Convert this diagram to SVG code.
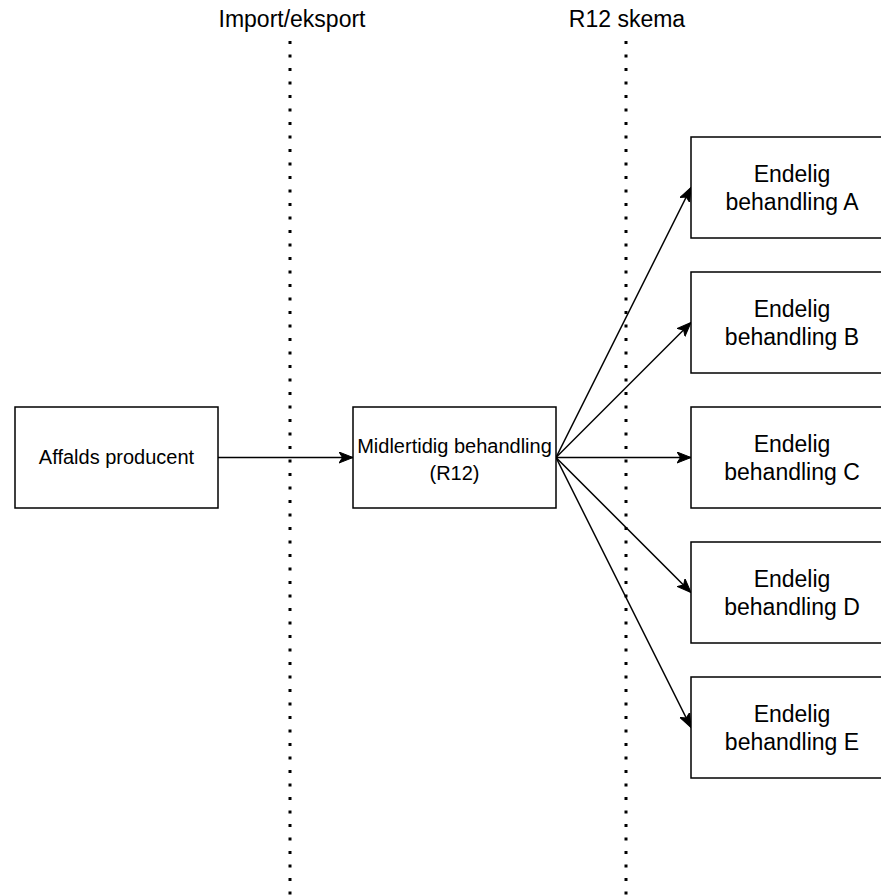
<svg xmlns="http://www.w3.org/2000/svg" width="881" height="895" viewBox="0 0 881 895">
<style>
.box{fill:#fff;stroke:#000;stroke-width:1.5}
.lbl{font-family:"Liberation Sans",Arial,sans-serif;fill:#000;text-anchor:middle}
.big{font-size:23px}
.mid{font-size:20px}
.edge{fill:none;stroke:#000;stroke-width:1.5}
.sep{fill:none;stroke:#000;stroke-width:3;stroke-dasharray:3 10.5}
</style>
<defs>
<marker id="arr" markerUnits="userSpaceOnUse" markerWidth="16" markerHeight="14" refX="14" refY="6" orient="auto">
<path d="M0,0.5 L14,6 L0,11.5 L3.5,6 z" fill="#000" stroke="#000" stroke-width="1"/>
</marker>
</defs>
<g id="separators">
<line class="sep" x1="290" y1="41" x2="290" y2="895"/>
<line class="sep" x1="626" y1="41" x2="626" y2="895"/>
<text class="lbl big" x="292" y="27">Import/eksport</text>
<text class="lbl big" x="627" y="27">R12 skema</text>
</g>
<g id="connectors">
<line class="edge" x1="218" y1="457.5" x2="353" y2="457.5" marker-end="url(#arr)"/>
<line class="edge" x1="556" y1="457.5" x2="691" y2="187.5" marker-end="url(#arr)"/>
<line class="edge" x1="556" y1="457.5" x2="691" y2="322.5" marker-end="url(#arr)"/>
<line class="edge" x1="556" y1="457.5" x2="691" y2="457.5" marker-end="url(#arr)"/>
<line class="edge" x1="556" y1="457.5" x2="691" y2="592.5" marker-end="url(#arr)"/>
<line class="edge" x1="556" y1="457.5" x2="691" y2="727.5" marker-end="url(#arr)"/>
</g>
<g id="affalds">
<rect class="box" x="15" y="407" width="203" height="101"/>
<text class="lbl mid" x="116.5" y="464">Affalds producent</text>
</g>
<g id="midlertidig">
<rect class="box" x="353" y="407" width="203" height="101"/>
<text class="lbl mid" x="454.5" y="453">Midlertidig behandling</text>
<text class="lbl mid" x="454.5" y="480">(R12)</text>
</g>
<g id="endeligA">
<rect class="box" x="691" y="137" width="203" height="101"/>
<text class="lbl big" x="792" y="182">Endelig</text>
<text class="lbl big" x="792" y="210">behandling A</text>
</g>
<g id="endeligB">
<rect class="box" x="691" y="272" width="203" height="101"/>
<text class="lbl big" x="792" y="317">Endelig</text>
<text class="lbl big" x="792" y="345">behandling B</text>
</g>
<g id="endeligC">
<rect class="box" x="691" y="407" width="203" height="101"/>
<text class="lbl big" x="792" y="452">Endelig</text>
<text class="lbl big" x="792" y="480">behandling C</text>
</g>
<g id="endeligD">
<rect class="box" x="691" y="542" width="203" height="101"/>
<text class="lbl big" x="792" y="587">Endelig</text>
<text class="lbl big" x="792" y="615">behandling D</text>
</g>
<g id="endeligE">
<rect class="box" x="691" y="677" width="203" height="101"/>
<text class="lbl big" x="792" y="722">Endelig</text>
<text class="lbl big" x="792" y="750">behandling E</text>
</g>
</svg>
